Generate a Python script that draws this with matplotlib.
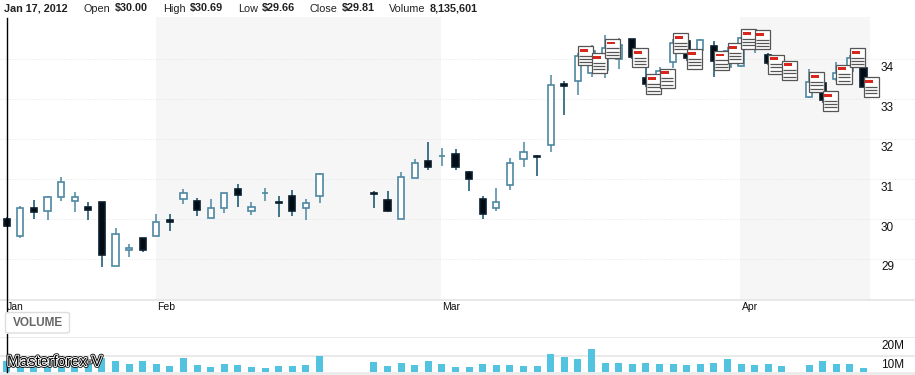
import numpy as np
import matplotlib
matplotlib.use("Agg")
import matplotlib.pyplot as plt
import matplotlib.patheffects as pe
from matplotlib.lines import Line2D
from matplotlib.patches import Rectangle, FancyBboxPatch
from matplotlib.transforms import ScaledTranslation

plt.rcParams["font.family"] = ["Liberation Sans", "DejaVu Sans"]

W, H = 915, 375

# trading slots, None = no candle drawn
opens = [30.00, 29.57, 30.27, 30.18, 30.54, 30.43, 30.29, 30.41, 28.81, 29.21, 29.52, 29.57, 29.96, 30.50, 30.44, 30.01,
         30.27, 30.75, 30.19, 30.64, 30.42, 30.56, 30.26, 30.56, None, None, None, 30.65, 30.47, 30.00, 31.03, 31.45,
         31.57, 31.62, 31.16, 30.49, 30.26, 30.84, 31.49, 31.58, 31.84, 33.37, 33.45, 33.64, 33.72, 33.99, 34.49, 33.52,
         33.40, 33.92, 34.44, 34.22, 34.33, 33.80, 33.83, 34.25, 34.10, 33.70, None, 33.05, 33.39, 33.49, 33.70, 33.77]
highs = [30.03, 30.32, 30.46, 30.57, 31.05, 30.66, 30.41, 30.41, 29.76, 29.36, 29.52, 30.11, 30.12, 30.73, 30.52, 30.49,
         30.65, 30.86, 30.41, 30.76, 30.56, 30.72, 30.49, 31.15, None, None, None, 30.69, 30.68, 31.16, 31.49, 31.91,
         31.76, 31.74, 31.19, 30.56, 30.76, 31.51, 31.91, 31.59, 33.60, 33.46, 34.15, 34.35, 34.60, 34.52, 34.50, 33.78,
         33.80, 34.50, 34.50, 34.50, 34.46, 34.30, 34.55, 34.75, 34.15, 33.95, None, 33.74, 33.45, 33.93, 34.10, 33.80]
lows = [29.80, 29.51, 29.99, 29.96, 30.45, 30.16, 29.97, 28.79, 28.81, 29.03, 29.16, 29.57, 29.69, 30.36, 30.07, 30.01,
        30.15, 30.30, 30.10, 30.44, 30.04, 30.06, 29.96, 30.40, None, None, None, 30.27, 30.16, 30.00, 31.03, 31.23,
        31.33, 31.23, 30.70, 30.00, 30.18, 30.72, 31.29, 31.08, 31.68, 32.60, 33.10, 33.55, 33.52, 33.74, 34.00, 33.30,
        33.35, 33.77, 33.95, 34.10, 33.54, 33.70, 33.80, 34.15, 33.85, 33.65, None, 33.02, 32.90, 33.45, 33.65, 33.30]
closes = [29.82, 30.26, 30.16, 30.55, 30.92, 30.54, 30.21, 29.09, 29.61, 29.27, 29.21, 29.91, 29.92, 30.65, 30.22, 30.27,
          30.65, 30.60, 30.28, 30.65, 30.40, 30.18, 30.38, 31.11, None, None, None, 30.62, 30.20, 31.04, 31.39, 31.30,
          31.58, 31.29, 30.99, 30.11, 30.42, 31.39, 31.68, 31.54, 33.35, 33.33, 34.08, 34.20, 34.28, 34.35, 34.04, 33.37,
          33.70, 34.39, 34.02, 34.48, 33.96, 34.20, 34.53, 34.70, 33.90, 33.90, None, 33.43, 32.97, 33.66, 34.03, 33.31]
volumes = [7.0, 5.5, 5.5, 8.0, 6.0, 5.0, 6.0, 8.9, 7.1, 5.4, 7.1, 5.4, 4.3, 8.7, 4.8, 3.9,
           5.4, 4.8, 3.9, 3.3, 4.5, 4.5, 4.8, 9.7, None, None, None, 6.6, 4.5, 6.1, 5.0, 7.1,
           5.5, 3.9, 3.9, 5.5, 5.0, 5.0, 4.5, 4.5, 10.8, 9.2, 8.2, 13.4, 6.1, 6.1, 5.5, 6.1,
           5.5, 5.5, 5.0, 5.5, 6.1, 8.2, 5.5, 5.0, 5.5, 4.5, None, 5.0, 7.1, 5.5, 5.5, 3.4]

# news icons: candle slot and price at icon centre
news_slots = [42, 43, 44, 46, 47, 48, 49, 50, 52, 53, 54, 55, 56, 57, 59, 60, 61, 62, 63]
news_prices = [34.08, 33.90, 34.26, 34.03, 33.37, 33.52, 34.40, 34.00, 33.96, 34.15, 34.50, 34.48, 33.87, 33.72,
               33.42, 32.95, 33.62, 34.03, 33.30]

price_ticks = [29, 30, 31, 32, 33, 34]
volume_ticks = [10, 20]
month_labels = ["Jan", "Feb", "Mar", "Apr"]
month_slots = [0, 11, 32, 54]
shaded_bands = [(11, 31.95), (53.95, 63.5)]

PX_PER_SLOT = 13.6
X0 = 6.7
xlim = (-X0 / PX_PER_SLOT, (W - X0) / PX_PER_SLOT)


def axes_at(top, bottom):
    return fig.add_axes([0, 1 - bottom / H, 1, (bottom - top) / H])


def nudge_labels(labels, dx_px, dy_px):
    # the site draws its axis labels just under the gridline
    shift = ScaledTranslation(dx_px / 100, -dy_px / 100, fig.dpi_scale_trans)
    for t in labels:
        t.set_transform(t.get_transform() + shift)


fig = plt.figure(figsize=(W / 100, H / 100), dpi=100, facecolor="white")

# price panel
ax = axes_at(17, 299.5)
ax.set_xlim(*xlim)
ax.set_ylim(29 + (258.5 - 299.5) / 39.9, 29 + (258.5 - 17) / 39.9)
for start, end in shaded_bands:
    ax.axvspan(start, end, color="#f6f6f6", lw=0, zorder=0)
ax.set_yticks(price_ticks)
ax.set_yticklabels([str(p) for p in price_ticks])
ax.yaxis.tick_right()
ax.tick_params(axis="y", length=0, pad=-24.5, labelsize=8.5, labelcolor="#111111")
for t in ax.get_yticklabels():
    t.set_va("center")
nudge_labels(ax.get_yticklabels(), 0, 9)
ax.grid(axis="y", color="#e6e6e6", lw=0.7, ls=(0, (1, 1.5)), zorder=1)
ax.set_xticks(month_slots)
ax.set_xticklabels(month_labels, ha="left")
ax.tick_params(axis="x", length=0, pad=1.5, labelsize=7.5, labelcolor="#111111")
nudge_labels(ax.get_xticklabels(), 0.5, 0)
for name in ["top", "left", "right"]:
    ax.spines[name].set_visible(False)
ax.spines["bottom"].set_color("#e4e4e4")
ax.spines["bottom"].set_linewidth(1.2)

slots = np.arange(len(opens))
for i in slots:
    if opens[i] is None:
        continue
    up = closes[i] >= opens[i]
    wick = "#4d87a2" if up else "#0f4f6b"
    ax.vlines(i, lows[i], highs[i], color=wick, lw=1.1, zorder=3)
    low_body = min(opens[i], closes[i])
    ax.bar(i, abs(closes[i] - opens[i]), bottom=low_body, width=0.47,
           facecolor="white" if up else "#020c14", edgecolor="#4d87a2" if up else "#0a1e2c", lw=1.2, zorder=4)

# document icons sized in pixels, placed through data coordinates
icon_w = 15.3 / PX_PER_SLOT
icon_h = 19.3 / 39.9
for slot, price in zip(news_slots, news_prices):
    left = slot
    top = price + icon_h / 2
    ax.add_patch(Rectangle((left, price - icon_h / 2), icon_w, icon_h, facecolor="white", edgecolor="#555555",
                           lw=0.9, zorder=6))
    ax.add_patch(Rectangle((left + icon_w * 0.11, top - icon_h * 0.28), icon_w * 0.52, icon_h * 0.14,
                           facecolor="#d8261c", edgecolor="none", zorder=7))
    for frac in [0.49, 0.66, 0.83]:
        ax.plot([left + icon_w * 0.09, left + icon_w * 0.91], [top - icon_h * frac] * 2, color="#555555", lw=0.9,
                zorder=7, solid_capstyle="butt")

# volume panel
vax = axes_at(336.5, 374.5)
vax.set_xlim(*xlim)
vax.set_ylim(0, 20)
vol_x = [i for i in slots if volumes[i] is not None]
vol_y = [volumes[i] for i in vol_x]
vax.bar(vol_x, vol_y, width=0.51, color="#52c4df", zorder=2)
vax.set_yticks(volume_ticks)
vax.set_yticklabels(["%dM" % v for v in volume_ticks])
vax.yaxis.tick_right()
vax.tick_params(axis="y", length=0, pad=-24.5, labelsize=8.5, labelcolor="#111111")
for t in vax.get_yticklabels():
    t.set_va("center")
    t.set_clip_on(False)
nudge_labels(vax.get_yticklabels(), 0, 9.5)
vax.grid(axis="y", color="#e6e6e6", lw=1.2, zorder=1)
vax.set_xticks([])
for s in vax.spines.values():
    s.set_visible(False)
vax.patch.set_alpha(0)

# bottom band
fig.add_artist(Rectangle((0, 0), 1, 3 / H, transform=fig.transFigure, facecolor="#ececec", edgecolor="none", zorder=5))


def px(x, y):
    return x / W, 1 - y / H


# crosshair
for y0, y1 in [(18, 311.5), (333.5, 372)]:
    x_a, y_a = px(6.5, y0)
    x_b, y_b = px(6.5, y1)
    fig.add_artist(Line2D([x_a, x_b], [y_a, y_b], color="black", lw=1, zorder=6))

# volume button
bx, by = px(5.5, 333)
fig.add_artist(FancyBboxPatch((bx, by), 64 / W, 20.5 / H, boxstyle="round,pad=0,rounding_size=0.004",
                              transform=fig.transFigure, facecolor="white", edgecolor="#dddddd", lw=1, zorder=6))
tx, ty = px(37.5, 322.5)
fig.text(tx, ty, "VOLUME", ha="center", va="center", fontsize=8.5, fontweight="bold", color="#666666", zorder=7)

# header text
header = [(4, "Jan 17, 2012", "bold"), (84, "Open", "normal"), (115, "$30.00", "bold"), (163, "High", "normal"),
          (190, "$30.69", "bold"), (238, "Low", "normal"), (262, "$29.66", "bold"), (310, "Close", "normal"),
          (341.5, "$29.81", "bold"), (389, "Volume", "normal"), (430, "8,135,601", "bold")]
for x, label, weight in header:
    tx, ty = px(x, 8.5)
    fig.text(tx, ty, label, ha="left", va="center", fontsize=7.8, fontweight=weight, color="#222222")

# watermark
tx, ty = px(7, 362)
fig.text(tx, ty, "Masterforex-V", ha="left", va="center", fontsize=10.9, color="black", zorder=8,
         path_effects=[pe.Stroke(linewidth=2.6, foreground="#111111"), pe.Stroke(linewidth=1.3, foreground="white"),
                       pe.Normal()])

fig.savefig("out.png", dpi=100)
